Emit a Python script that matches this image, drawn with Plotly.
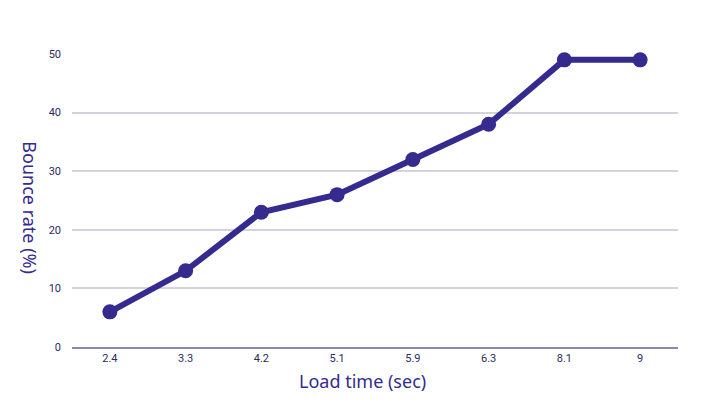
import plotly.graph_objects as go

# load time (sec) vs bounce rate (%)
load_time = ['2.4', '3.3', '4.2', '5.1', '5.9', '6.3', '8.1', '9']
bounce_rate = [6, 13, 23, 26, 32, 38, 49, 49]
y_ticks = [0, 10, 20, 30, 40, 50]

purple = '#352a8e'
title_font = dict(family='Noto Sans', size=18, color=purple)

fig = go.Figure(data=go.Scatter(
    x=load_time, y=bounce_rate, mode='lines+markers',
    line=dict(color=purple, width=6),
    marker=dict(color=purple, size=15),
    cliponaxis=False,
))

# page body adds 8px offset, margins account for it
fig.update_layout(
    width=706, height=411,
    margin=dict(l=64, r=36, t=46, b=72),
    plot_bgcolor='white', paper_bgcolor='white',
    showlegend=False,
    font=dict(family='Roboto', color='#2b2b5e', size=11),
)
fig.update_xaxes(
    type='category', range=[-0.5, 7.5],
    showgrid=False, showline=True, linecolor='#8d8aa8', linewidth=1.5,
    ticks='', tickfont=dict(size=11, color='#2b2b5e'),
)
fig.update_yaxes(
    range=[0, 50], tickvals=y_ticks,
    showgrid=True, gridcolor='#d4d2e0', gridwidth=1.5,
    zeroline=False, showline=False, ticks='', ticklabelstandoff=10,
    tickfont=dict(size=11, color='#2b2b5e'),
)

# axis titles as annotations (they sit a little off-centre in the original)
fig.add_annotation(text='Load time (sec)', xref='paper', yref='paper',
                   x=0.48, y=-0.116, xanchor='center', yanchor='middle',
                   showarrow=False, font=title_font)
fig.add_annotation(text='Bounce rate (%)', xref='paper', yref='paper',
                   x=-0.069, y=0.476, xanchor='center', yanchor='middle',
                   textangle=90, showarrow=False, font=title_font)

fig.write_html('out.html')
